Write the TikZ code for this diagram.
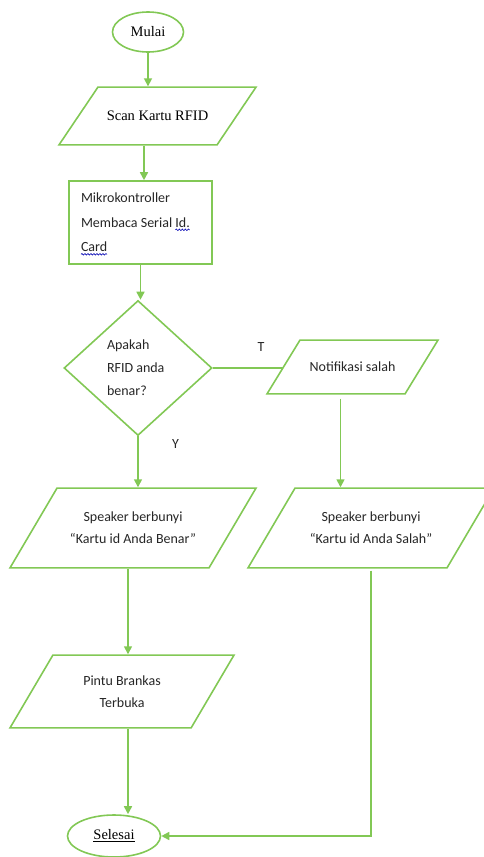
\documentclass[tikz,border=0pt]{standalone}
\usepackage{fontspec}
\setmainfont{Liberation Serif}
\newfontfamily\calibri{Carlito}
\usetikzlibrary{shapes.geometric,arrows.meta,decorations.pathmorphing}
\definecolor{hijau}{RGB}{130,200,85}
\newlength\panjangkata
\newcommand{\salahketik}[1]{\settowidth{\panjangkata}{#1}\leavevmode\hbox{\rlap{\tikz[overlay, baseline=0pt]\draw[blue!70!black, line width=0.6pt, decorate, decoration={snake, amplitude=0.8pt, segment length=3pt}] (0pt,-2.5pt) -- (\panjangkata,-2.5pt);}#1}}

\tikzset{%
  garis/.style={draw, color=hijau, line width=1.6pt},
  panah/.style={garis, -{Triangle[width=8pt,length=8pt]}},
  terminal/.style={draw=hijau, line width=1.6pt, ellipse, inner sep=0pt, font=\fontsize{14.5}{17}\selectfont},
  masukan/.style={draw=hijau, line width=1.6pt, trapezium, trapezium stretches body, align=center, inner xsep=0pt, text=black!85, font=\calibri\fontsize{14}{22}\selectfont},
  proses/.style={draw=hijau, line width=1.6pt, rectangle, text width=119pt, align=flush left, inner xsep=12pt, inner ysep=0pt, minimum height=83pt, text=black!85, font=\calibri\fontsize{14}{24.5}\selectfont},
  keputusan/.style={draw=hijau, line width=1.6pt, diamond, shape aspect=1.1, minimum width=148pt, minimum height=135pt, inner sep=0pt, text width=62pt, align=flush left, text=black!85, font=\calibri\fontsize{14}{23}\selectfont},
  tanda/.style={text=black!85, font=\calibri\fontsize{14}{17}\selectfont},
}

\begin{document}
\begin{tikzpicture}[x=1pt, y=-1pt]
\useasboundingbox (0,0) rectangle (484,857);
\node[terminal, minimum width=71pt, minimum height=40pt] (mulai) at (148,32) {Mulai};
\node[masukan, trapezium left angle=56, trapezium right angle=124, minimum width=197pt, inner ysep=24pt, text=black, font=\fontsize{14.5}{17}\selectfont] (scan) at (157.5,116) {Scan Kartu RFID};
\node[proses] (baca) at (140.5,222.5) {Mikrokontroller\\Membaca Serial \salahketik{Id.}\\\salahketik{Card}};
\node[keputusan] (cek) at (138,368) {Apakah\\RFID anda\\benar?};
\node[masukan, trapezium left angle=58.5, trapezium right angle=121.5, minimum width=171pt, inner ysep=22pt] (notif) at (352.5,367) {Notifikasi salah};
\node[masukan, trapezium left angle=59.5, trapezium right angle=120.5, minimum width=246pt, inner ysep=24pt] (benar) at (133,528) {Speaker berbunyi\\“Kartu id Anda Benar”};
\node[masukan, trapezium left angle=59.5, trapezium right angle=120.5, minimum width=246pt, inner ysep=24pt] (salah) at (371,528) {Speaker berbunyi\\“Kartu id Anda Salah”};
\node[masukan, trapezium left angle=59.5, trapezium right angle=120.5, minimum width=224pt, inner ysep=20.5pt] (buka) at (122,691.5) {Pintu Brankas\\Terbuka};
\node[terminal, minimum width=93pt, minimum height=42pt] (selesai) at (114,836) {\underline{Selesai}};
\draw[panah] (mulai) -- (mulai |- scan.north);
\draw[panah] ([xshift=3.5pt]baca.north |- scan.south) -- ([xshift=3.5pt]baca.north);
\draw[panah] (baca.south) -- (baca.south |- cek.north);
\draw[garis] (cek.east) -- (cek.east -| notif.west) node[tanda, pos=0.69, above=12pt] {T};
\draw[panah] (cek.south) -- (cek.south |- benar.north) node[tanda, pos=0.15, right=30pt] {Y};
\draw[panah] ([xshift=-12pt, yshift=-4pt]notif.south) -- ([xshift=-12pt]notif.south |- salah.north);
\draw[panah] ([xshift=6pt]buka.center |- benar.south) -- ([xshift=6pt]buka.center |- buka.north);
\draw[panah] ([xshift=6pt]buka.center |- buka.south) -- ([xshift=6pt]buka.center |- selesai.north);
\draw[panah] ([yshift=-2pt]salah.south) |- (selesai.east);
\end{tikzpicture}
\end{document}
